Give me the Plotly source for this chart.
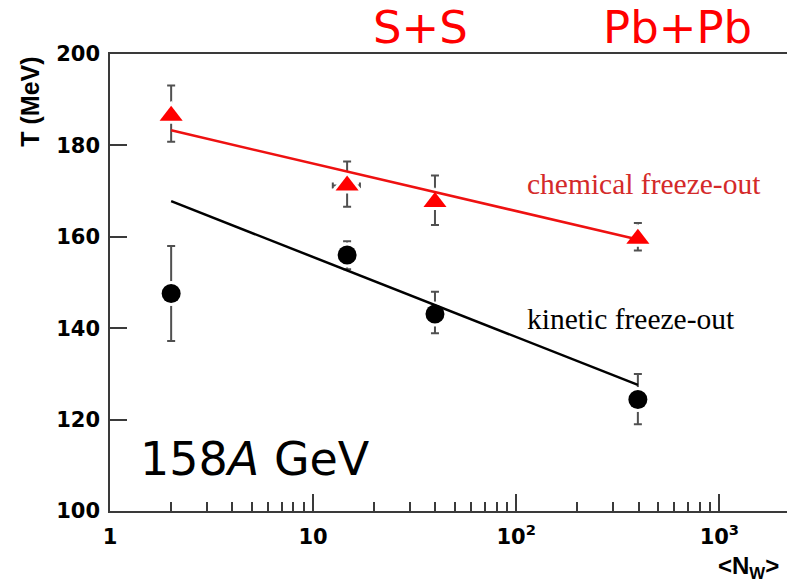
import plotly.graph_objects as go

# Wounded-nucleon number <N_W> and freeze-out temperatures (MeV)
chem_nw = [2, 14.7, 39.8, 397]
chem_t = [186.5, 171.2, 167.6, 159.6]
chem_t_err_up = [6.6, 5.3, 5.8, 3.4]
chem_t_err_dn = [5.7, 4.6, 5.0, 2.6]
chem_nw_err_up = [0, 2.3, 0, 0]
chem_nw_err_dn = [0, 2.2, 0, 0]

kin_nw = [2, 14.7, 39.8, 397]
kin_t = [147.6, 156.0, 143.1, 124.4]
kin_t_err_up = [10.4, 3.0, 4.9, 5.6]
kin_t_err_dn = [10.4, 3.1, 4.2, 5.4]

# straight-line fits in log(N_W)
chem_fit_nw = [2, 397]
chem_fit_t = [183.3, 159.4]
kin_fit_nw = [2, 397]
kin_fit_t = [167.8, 127.6]

x_tick_vals = [1, 10, 100, 1000]
x_tick_text = ["1", "10", "10<sup>2</sup>", "10<sup>3</sup>"]
x_minor_vals = [2, 3, 4, 5, 6, 7, 8, 9,
                20, 30, 40, 50, 60, 70, 80, 90,
                200, 300, 400, 500, 600, 700, 800, 900]
y_tick_vals = [100, 120, 140, 160, 180, 200]

RED = "#ff0000"
ERR = "#505050"
AXIS = "#3a3a3a"

fig = go.Figure()

# points with error bars; white outline leaves a small gap around each marker
fig.add_trace(go.Scatter(
    x=chem_nw, y=chem_t, mode="markers",
    marker=dict(symbol="triangle-up", size=20, color=RED,
                line=dict(color="white", width=6)),
    error_y=dict(type="data", array=chem_t_err_up, arrayminus=chem_t_err_dn,
                 color=ERR, thickness=2, width=4),
    error_x=dict(type="data", array=chem_nw_err_up, arrayminus=chem_nw_err_dn,
                 color=ERR, thickness=2, width=3),
    showlegend=False, hoverinfo="skip"))
fig.add_trace(go.Scatter(
    x=kin_nw, y=kin_t, mode="markers",
    marker=dict(symbol="circle", size=19, color="black",
                line=dict(color="white", width=6)),
    error_y=dict(type="data", array=kin_t_err_up, arrayminus=kin_t_err_dn,
                 color=ERR, thickness=2, width=4),
    showlegend=False, hoverinfo="skip"))

# fit lines
fig.add_trace(go.Scatter(x=chem_fit_nw, y=chem_fit_t, mode="lines",
                         line=dict(color="#ee1111", width=2.5),
                         showlegend=False, hoverinfo="skip"))
fig.add_trace(go.Scatter(x=kin_fit_nw, y=kin_fit_t, mode="lines",
                         line=dict(color="black", width=2.5),
                         showlegend=False, hoverinfo="skip"))

# markers on top of the lines
fig.add_trace(go.Scatter(x=chem_nw, y=chem_t, mode="markers",
                         marker=dict(symbol="triangle-up", size=20, color=RED),
                         showlegend=False, hoverinfo="skip"))
fig.add_trace(go.Scatter(x=kin_nw, y=kin_t, mode="markers",
                         marker=dict(symbol="circle", size=19, color="black"),
                         showlegend=False, hoverinfo="skip"))

tick_font = dict(family="DejaVu Sans", size=21, color="black", weight="bold")

fig.update_layout(
    width=787, height=585,
    margin=dict(l=110, r=0, t=54, b=74),
    paper_bgcolor="white", plot_bgcolor="white",
    xaxis=dict(
        type="log", range=[0, 3.333],
        tickmode="array", tickvals=x_tick_vals, ticktext=x_tick_text,
        ticks="inside", ticklen=17, tickwidth=1.5, tickcolor=AXIS,
        minor=dict(tickmode="array", tickvals=x_minor_vals, ticks="inside",
                   ticklen=9, tickwidth=1.5, tickcolor=AXIS, showgrid=False),
        showline=True, linecolor=AXIS, linewidth=1.5, mirror=True,
        showgrid=False, zeroline=False,
        tickfont=tick_font, ticklabelstandoff=6,
    ),
    yaxis=dict(
        range=[100, 200],
        tickmode="array", tickvals=y_tick_vals,
        ticks="inside", ticklen=17, tickwidth=1.5, tickcolor=AXIS,
        showline=True, linecolor=AXIS, linewidth=1.5,
        showgrid=False, zeroline=False,
        tickfont=tick_font, ticklabelstandoff=4,
    ),
)

annotations = [
    dict(text="S+S", x=0.459, y=1.057, xanchor="center", yanchor="middle",
         font=dict(family="DejaVu Sans", size=45, color=RED)),
    dict(text="Pb+Pb", x=0.838, y=1.057, xanchor="center", yanchor="middle",
         font=dict(family="DejaVu Sans", size=45, color=RED)),
    dict(text="158<i>A</i> GeV", x=0.041, y=0.113, xanchor="left", yanchor="middle",
         font=dict(family="DejaVu Sans", size=46, color="black")),
    dict(text="chemical freeze-out", x=0.789, y=0.7165, xanchor="center", yanchor="middle",
         font=dict(family="Liberation Serif", size=29.5, color="#d42a2a")),
    dict(text="kinetic freeze-out", x=0.7696, y=0.4208, xanchor="center", yanchor="middle",
         font=dict(family="Liberation Serif", size=29.5, color="black")),
    dict(text="T (MeV)", x=-0.1182, y=0.8956, xanchor="center", yanchor="middle",
         textangle=-90,
         font=dict(family="Liberation Sans", size=25, color="black", weight="bold")),
    dict(text="&lt;N<sub>W</sub>&gt;", x=0.895, y=-0.086, xanchor="left", yanchor="top",
         font=dict(family="Liberation Sans", size=24, color="black", weight="bold")),
]
for a in annotations:
    a.update(xref="paper", yref="paper", showarrow=False)
fig.update_layout(annotations=annotations)

fig.write_html("out.html")
